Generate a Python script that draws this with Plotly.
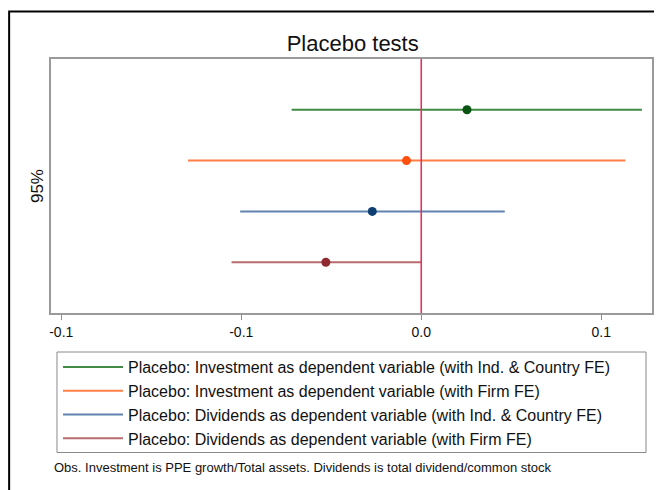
import plotly.graph_objects as go

# ---- data ----
series_names = [
    "Placebo: Investment as dependent variable (with Ind. & Country FE)",
    "Placebo: Investment as dependent variable (with Firm FE)",
    "Placebo: Dividends as dependent variable (with Ind. & Country FE)",
    "Placebo: Dividends as dependent variable (with Firm FE)",
]
y_pos = [4, 3, 2, 1]
estimates = [0.0127, -0.0041, -0.0136, -0.0265]
ci_low = [-0.0360, -0.0648, -0.0503, -0.0527]
ci_high = [0.0613, 0.0567, 0.0232, 0.0000]
tick_vals = [-0.1, -0.05, 0.0, 0.05]
tick_text = ["-0.1", "-0.1", "0.0", "0.1"]

line_colors = ["#3f8a45", "#ff7f47", "#5f83ad", "#b86b6e"]
dot_colors = ["#0b5512", "#ff5010", "#0e3f73", "#8e2a30"]

FONT = "Arial, Liberation Sans, sans-serif"

fig = go.Figure()
for i in range(len(series_names)):
    fig.add_trace(go.Scatter(
        x=[ci_low[i], ci_high[i]], y=[y_pos[i], y_pos[i]],
        mode="lines", line=dict(color=line_colors[i], width=2),
        name=series_names[i], showlegend=True, hoverinfo="skip"))
for i in range(len(series_names)):
    fig.add_trace(go.Scatter(
        x=[estimates[i]], y=[y_pos[i]], mode="markers",
        marker=dict(color=dot_colors[i], size=9),
        showlegend=False, name=series_names[i]))

# page offset (browser body margin)
OFF = 8
W, H = 662 - OFF, 490 - OFF
# plot area in page pixels
PL, PT, PR, PB = 51, 59, 654, 313
L = PL - OFF
T = PT - OFF
R = W - (PR - OFF)
B = H - (PB - OFF)
pw = PR - PL
ph = PB - PT

def px_x(p):
    return (p - PL) / pw

def px_y(p):
    return (PB - p) / ph

fig.add_vline(x=0, line=dict(color="#e0335f", width=1.6), layer="above")

# outer frame
fig.add_shape(type="rect", xref="paper", yref="paper",
              x0=px_x(9), x1=px_x(720), y0=px_y(540), y1=px_y(11.5),
              line=dict(color="black", width=2), fillcolor="rgba(0,0,0,0)",
              layer="below")
# legend box
fig.add_shape(type="rect", xref="paper", yref="paper",
              x0=px_x(57), x1=px_x(648), y0=px_y(452.5), y1=px_y(352),
              line=dict(color="#8a8a8a", width=1), fillcolor="white",
              layer="below")

fig.update_layout(
    width=W, height=H,
    margin=dict(l=L, r=R, t=T, b=B),
    paper_bgcolor="white", plot_bgcolor="white",
    font=dict(family=FONT, color="#111111"),
    title=dict(text="Placebo tests", x=(352.7 - OFF) / W, xanchor="center",
               y=1 - (43 - OFF) / H, yanchor="middle", yref="container",
               font=dict(size=22, family=FONT, color="#111111")),
    xaxis=dict(range=[-0.10285, 0.0641], tickvals=tick_vals, ticktext=tick_text,
               ticks="outside", ticklen=5, tickcolor="#8c8c8c", tickwidth=1,
               showgrid=False, zeroline=False, showline=True, linecolor="#9a9a9a",
               linewidth=2, mirror=True, tickfont=dict(size=14, family=FONT, color="#111111")),
    yaxis=dict(range=[0, 5], showticklabels=False, ticks="", showgrid=False,
               zeroline=False, showline=True, linecolor="#9a9a9a", linewidth=2, mirror=True),
    legend=dict(x=px_x(58), y=px_y(350), xanchor="left", yanchor="top",
                borderwidth=0, bgcolor="rgba(0,0,0,0)",
                font=dict(size=16, family=FONT, color="#111111"),
                itemwidth=60, tracegroupgap=0),
    showlegend=True,
)

fig.add_annotation(text="95%", xref="paper", yref="paper", x=px_x(37), y=px_y(186),
                   textangle=-90, showarrow=False, xanchor="center", yanchor="middle",
                   font=dict(size=17, family=FONT, color="#111111"))
fig.add_annotation(text="Obs. Investment is PPE growth/Total assets. Dividends is total dividend/common stock",
                   xref="paper", yref="paper", x=px_x(52), y=px_y(467),
                   showarrow=False, xanchor="left", yanchor="middle",
                   font=dict(size=13, family=FONT, color="#111111"))

fig.write_html("out.html")
